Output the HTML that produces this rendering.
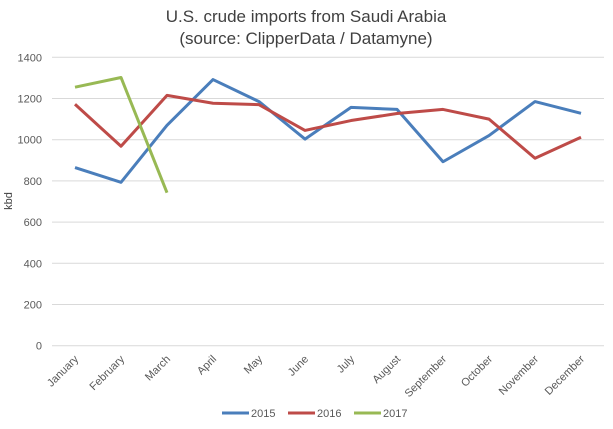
<!DOCTYPE html>
<html><head><meta charset="utf-8"><style>
body{margin:0;background:#fff;font-family:"Liberation Sans",sans-serif}
</style></head><body>
<svg id="c" width="613" height="424" xmlns="http://www.w3.org/2000/svg">
<text x="306" y="22" text-anchor="middle" font-size="17" fill="#404040">U.S. crude imports from Saudi Arabia</text>
<text x="306" y="44" text-anchor="middle" font-size="17" fill="#404040">(source: ClipperData / Datamyne)</text>
<text transform="translate(12,201) rotate(-90)" text-anchor="middle" font-size="11" fill="#404040">kbd</text>
<g id="grid"></g><g id="series"></g><g id="legend"></g>
</svg>
<script>
const categories=["January","February","March","April","May","June","July","August","September","October","November","December"];
const yTicks=[0,200,400,600,800,1000,1200,1400];
const s2015=[865,793,1070,1292,1185,1003,1157,1147,893,1020,1185,1128];
const s2016=[1172,968,1215,1177,1170,1045,1093,1127,1147,1100,910,1012];
const s2017=[1255,1302,743];
const seriesNames=["2015","2016","2017"];
const colors=["#4a7ebb","#be4b48","#98b954"];
const NS="http://www.w3.org/2000/svg";
const x0=52,step=46,yb=345.7,yt=57.3,ymax=1400;
const X=i=>x0+step*(i+0.5);
const Y=v=>yb-(v/ymax)*(yb-yt);
function mk(t,a,p){const e=document.createElementNS(NS,t);for(const k in a)e.setAttribute(k,a[k]);p.appendChild(e);return e;}
const g=document.getElementById('grid');
yTicks.forEach(v=>{
 const l=mk('line',{x1:x0,x2:x0+step*12,y1:Y(v),y2:Y(v),stroke:'#d9d9d9','stroke-width':1},g);
 
 
 const t=mk('text',{x:x0-10,y:Y(v)+4,'text-anchor':'end','font-size':11,fill:'#595959'},g);
 t.textContent=v;
 
 
});
categories.forEach((c,i)=>{
 const t=mk('text',{transform:`translate(${X(i)+4},${yb+14}) rotate(-45)`,'text-anchor':'end','font-size':11,fill:'#595959'},g);
 t.textContent=c;
 
 
});
const sg=document.getElementById('series');
[s2015,s2016,s2017].forEach((d,k)=>{
 const p=mk('polyline',{points:d.map((v,i)=>X(i)+','+Y(v)).join(' '),fill:'none',stroke:colors[k],'stroke-width':3,'stroke-linejoin':'round'},sg);
 
 
});
const lg=document.getElementById('legend');
const lx=[222,288,354];
seriesNames.forEach((n,k)=>{
 const l=mk('line',{x1:lx[k],x2:lx[k]+27,y1:413,y2:413,stroke:colors[k],'stroke-width':3},lg);
 
 
 const t=mk('text',{x:lx[k]+29,y:417,'font-size':11,fill:'#595959'},lg);
 t.textContent=n;
 
 
});
</script>
</body></html>
